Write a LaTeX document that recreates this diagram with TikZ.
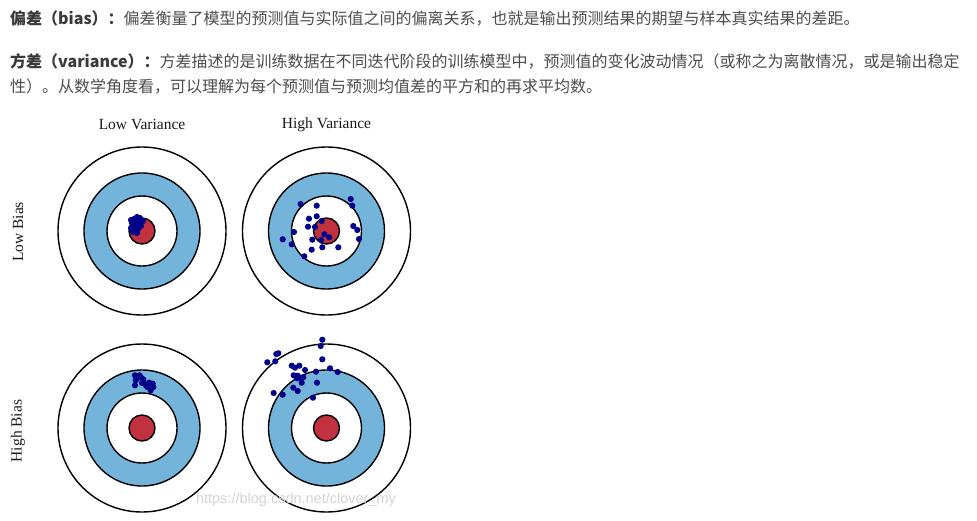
\documentclass[tikz,border=0pt]{standalone}
\usepackage{fontspec}
\newfontfamily\cjk{Noto Sans CJK SC}
\newfontfamily\wmfont{Liberation Sans}
\newfontfamily\labserif{Liberation Serif}
\definecolor{bodygray}{HTML}{4D4D4D}
\definecolor{labelgray}{HTML}{3A3A3A}
\definecolor{ringblue}{HTML}{74B4DA}
\definecolor{bullred}{HTML}{C1313F}
\definecolor{dotnavy}{HTML}{00008B}
\definecolor{wmgray}{HTML}{D4D4D4}
\tikzset{
  txt/.style={anchor=base west, inner sep=0pt, text=bodygray, font=\cjk\fontsize{16}{20}\selectfont},
  axlabel/.style={inner sep=0pt, text=black!90, font=\labserif\fontsize{15.5}{18}\selectfont},
  tline/.style={draw=black, line width=1.4pt},
  hit/.style={fill=dotnavy},
  target/.pic={
    \draw[tline, fill=white] (0,0) circle (84);
    \draw[tline, fill=ringblue] (0,0) circle (58);
    \draw[tline, fill=white] (0,0) circle (35);
    \draw[tline, fill=bullred] (0,0) circle (13);
  }
}
\begin{document}
\begin{tikzpicture}[x=1pt,y=-1pt]
\useasboundingbox (0,0) rectangle (977,520);
\fill[white] (0,0) rectangle (977,520);

% text
\node[txt] (line1) at (10,24) {\textcolor{labelgray}{\bfseries 偏差（bias）：}偏差衡量了模型的预测值与实际值之间的偏离关系，也就是输出预测结果的期望与样本真实结果的差距。};
\node[txt] (line2) at (10,67) {\textcolor{labelgray}{\bfseries 方差（variance）：}方差描述的是训练数据在不同迭代阶段的训练模型中，预测值的变化波动情况（或称之为离散情况，或是输出稳定};
\node[txt] (line3) at (10,92) {性）。从数学角度看，可以理解为每个预测值与预测均值差的平方和的再求平均数。};

% column / row labels
\node[axlabel] (lowvar) at (142,124.5) {Low Variance};
\node[axlabel] (highvar) at (326.5,124.5) {High Variance};
\node[axlabel, rotate=90] (lowbias) at (18,232) {Low Bias};
\node[axlabel, rotate=90] (highbias) at (18,431) {High Bias};

% targets
\pic at (142,231) {target};
\pic at (326.5,231) {target};
\pic at (142,428) {target};
\pic at (326.5,428) {target};

% low bias, low variance
\foreach \p in {(134,219),(137,217),(140,218),(132,223),(136,222),(139,224),(143,221),(131,228),(134,227),(138,229),(141,226),(133,232),(137,233),(135,225),(131,220),(136,230)}
  \fill[hit] \p circle (3.1);

% low bias, high variance
\foreach \p in {(300.7,204),(316.7,205.7),(350.7,199),(352.3,205.7),(309,218.7),(316.7,216.3),(321.7,221),(308,226.7),(315,227),(294,232),(282.7,239.3),(291.7,244.3),(312.3,239.7),(321,240),(324.3,234.3),(329.3,237.3),(353.3,226),(357.3,230),(359,239),(338.3,247.3),(322.3,247.3),(311.7,249.7),(304.3,256.3)}
  \fill[hit] \p circle (3.1);

% high bias, low variance
\foreach \p in {(135,375.3),(135.7,380.3),(135,385.3),(140.7,377),(143.3,379.3),(144,382.7),(146,385.3),(149.3,382.7),(152.7,383.7),(153.3,387),(150.7,390.3),(139.3,375.3),(147.3,387),(142,383),(137.5,378)}
  \fill[hit] \p circle (3.1);

% high bias, high variance
\foreach \p in {(322.3,339.7),(320.7,346),(278.3,353.3),(276.3,354),(267.3,362.3),(275.3,361.3),(322.3,359.3),(291.7,365.7),(295,367.7),(299.3,365.7),(305,370),(316,371.7),(330,368.3),(337.7,372),(293.7,375.3),(297.7,375.7),(297,378.3),(300.3,377.7),(303.3,377.3),(301.7,382.7),(317,382.7),(293.3,387.7),(297.7,391),(273.7,393),(282.7,394.7),(313,397.7)}
  \fill[hit] \p circle (3.1);

% watermark
\node[inner sep=0pt, anchor=base, text=wmgray, font=\wmfont\fontsize{14.5}{17}\selectfont] (wm) at (296,503) {https://blog.csdn.net/clover\_my};
\end{tikzpicture}
\end{document}
